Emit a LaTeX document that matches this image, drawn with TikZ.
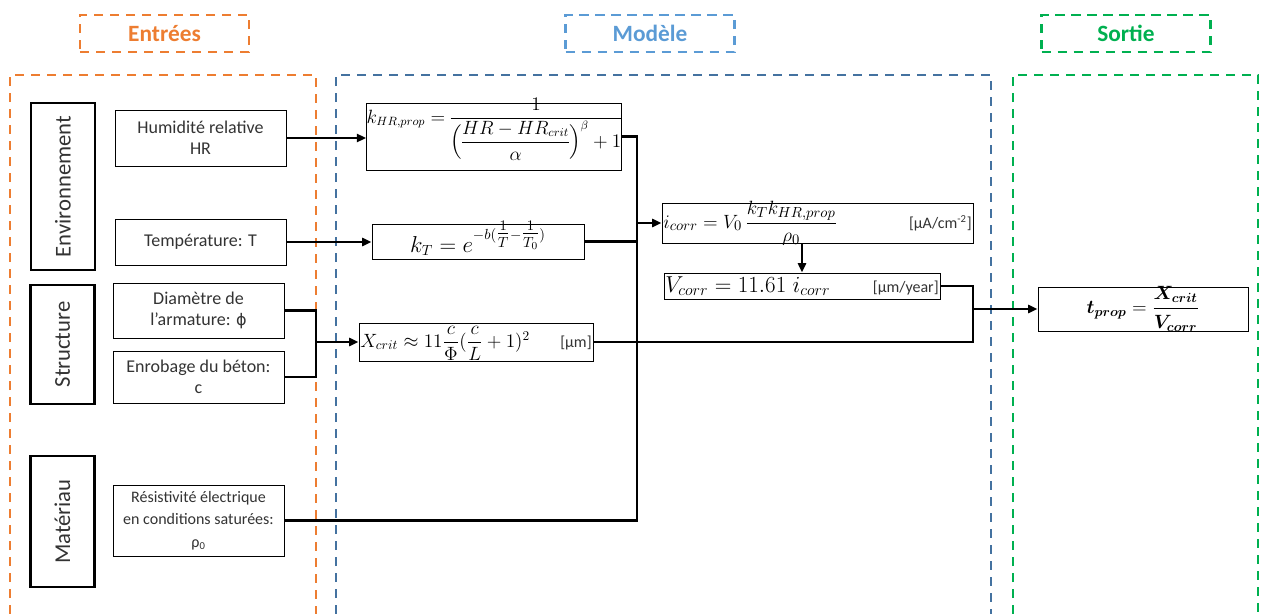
\documentclass[tikz,border=0pt]{standalone}
\usepackage{amsmath}
\usepackage{bm}
\usepackage{fontspec}
\setmainfont{Carlito}
\newfontfamily\symfont{DejaVu Sans}
\usepackage{tikz}
\usetikzlibrary{arrows.meta}
\definecolor{entOrange}{RGB}{237,125,49}
\definecolor{modBlue}{RGB}{91,155,213}
\definecolor{modFrame}{RGB}{68,114,160}
\definecolor{sorGreen}{RGB}{0,176,80}
\newcommand{\unitfont}{\fontsize{12}{14}\selectfont\color{black!80}}
\newcommand{\mathsize}[1]{\fontsize{#1}{#1}\selectfont}

\begin{document}
\begin{tikzpicture}[x=0.75pt,y=-0.75pt,
  dashbox/.style={draw=#1,line width=1.8pt,dash pattern=on 7pt off 5pt},
  head/.style={dashbox=#1,text=#1,font=\fontsize{17.5}{20}\selectfont\bfseries,
               minimum width=126.75pt,minimum height=27.75pt},
  cat/.style={draw,line width=2.2pt,rotate=90,font=\fontsize{17}{20}\selectfont,
              text=black!80,minimum height=48pt},
  inp/.style={draw,line width=0.7pt,align=center,font=\fontsize{13.5}{16}\selectfont,
              text=black!80,minimum width=128.25pt,inner sep=1pt},
  eq/.style={draw,line width=0.7pt,inner sep=1pt,align=left},
  link/.style={line width=1.8pt},
  arr/.style={link,-{Triangle[length=7pt,width=6pt]}}]
  \useasboundingbox (0,0) rectangle (1261,614);
  % headers and columns
  \node[head=entOrange] (hEnt) at (164.5,33.5) {Entrées};
  \node[head=modBlue] (hMod) at (650,33.5) {Modèle};
  \node[head=sorGreen] (hSor) at (1126,33.5) {Sortie};
  \draw[dashbox=entOrange] (10,614) -- (10,75) -- (316,75) -- (316,614);
  \draw[dashbox=modFrame] (336,614) -- (336,75) -- (991,75) -- (991,614);
  \draw[dashbox=sorGreen] (1013,614) -- (1013,75) -- (1258,75) -- (1258,614);
  % inputs
  \node[cat,minimum width=125.25pt] (env) at (63,186.5) {Environnement};
  \node[cat,minimum width=89.25pt] (str) at (62.5,344.5) {Structure};
  \node[cat,minimum width=98.25pt] (mat) at (62.5,521.5) {Matériau};
  \node[inp,minimum height=42pt] (hr) at (200.5,138) {Humidité relative\\HR};
  \node[inp,minimum height=34.5pt] (temp) at (200.5,242) {Température: T};
  \node[inp,minimum height=41.25pt] (diam) at (198.5,310.5) {Diamètre de\\l’armature: {\symfont\fontsize{12}{14}\selectfont ϕ}};
  \node[inp,minimum height=39pt] (enrob) at (198.5,377) {Enrobage du béton:\\c};
  \node[inp,minimum height=53.25pt,font=\fontsize{12}{17}\selectfont] (rho) at (198.5,520.5)
    {Résistivité électrique\\en conditions saturées:\\ρ\textsubscript{0}};
  % model
  \node[eq,minimum width=190.5pt,inner sep=0pt,text height=15pt,text depth=35.25pt,font=\mathsize{13.4}] (khr) at (494,136.5)
    {\nulldelimiterspace=0pt$k_{HR,prop}=\dfrac{1}{\Bigl(\dfrac{HR-HR_{crit}}{\alpha}\Bigr)^{\beta}+1}$};
  \node[eq,minimum width=159pt,text height=20pt,text depth=4.25pt,font=\mathsize{16}] (kt) at (478,241.5)
    {$k_T=e^{-b(\tfrac{1}{T}-\tfrac{1}{T_0})}$};
  \node[eq,text width=173.5pt,text height=17pt,text depth=9.5pt,font=\mathsize{14.5}] (xcrit) at (476,342)
    {$X_{crit}\approx 11\dfrac{c}{\Phi}(\dfrac{c}{L}+1)^2$\hfill{\unitfont[µm]}};
  \node[eq,text width=231.25pt,text height=17.75pt,text depth=10.25pt,font=\mathsize{15}] (icorr) at (817.5,223)
    {$i_{corr}=V_0\,\dfrac{k_Tk_{HR,prop}}{\rho_0}$\hfill{\unitfont[µA/cm\textsuperscript{-2}]}\hspace*{19pt}};
  \node[eq,text width=205pt,text height=13.25pt,text depth=4.25pt,font=\mathsize{17}] (vcorr) at (802,286)
    {$V_{corr}=11.61\;i_{corr}$\hfill{\unitfont[µm/year]}\hspace*{8pt}};
  % output
  \node[eq,minimum width=157.5pt,text height=19pt,text depth=12pt,font=\mathsize{14.5}] (tprop) at (1143,309)
    {$\bm{t_{prop}}=\bm{\dfrac{X_{crit}}{V_{corr}}}$};
  % connectors
  \coordinate (jA) at (637,223);
  \coordinate (jB) at (316,342);
  \coordinate (jC) at (973,309);
  \draw[arr] (hr.east) -- (hr.east -| khr.west);
  \draw[arr] (temp.east) -- (temp.east -| kt.west);
  \draw[link] (khr.east) -| (jA);
  \draw[link] (kt.east) -- (kt.east -| jA);
  \draw[link] (rho.east) -| (jA);
  \draw[arr] (jA) -- (icorr.west);
  \draw[arr] (icorr.south -| vcorr.north) -- (vcorr.north);
  \draw[link] (diam.east) -| (jB);
  \draw[link] (enrob.east) -| (jB);
  \draw[arr] (jB) -- (xcrit.west);
  \draw[link] (vcorr.east) -| (jC);
  \draw[link] (xcrit.east) -| (jC);
  \draw[arr] (jC) -- (tprop.west);
\end{tikzpicture}
\end{document}
